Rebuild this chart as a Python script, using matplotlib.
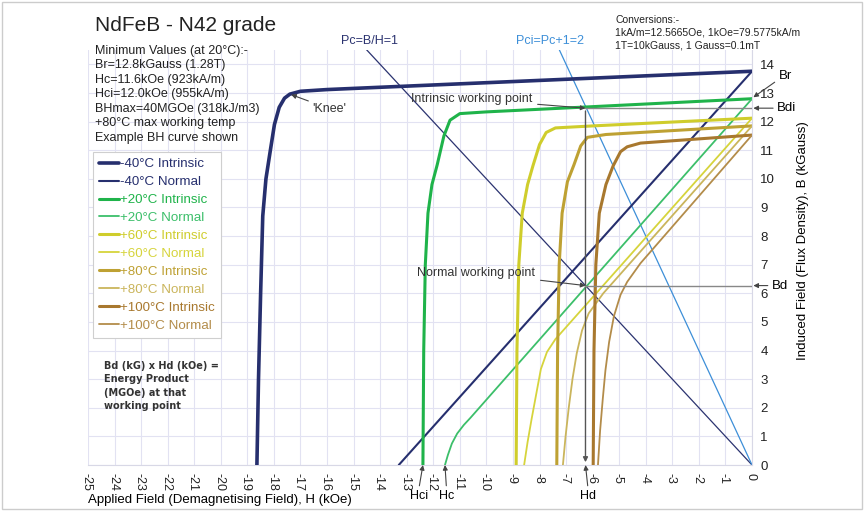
import matplotlib
matplotlib.use('Agg')
import matplotlib.pyplot as plt
from matplotlib.patches import Rectangle

plt.rcParams['font.family'] = ['Liberation Sans', 'DejaVu Sans']
plt.rcParams['axes.unicode_minus'] = False

# intrinsic / normal demagnetisation curves, H in kOe, B in kGauss
h_m40_int = [-18.64, -18.58, -18.5, -18.42, -18.3, -18.15, -17.98, -17.8, -17.6, -17.4, -17.0, -16.0, -14.76, -10.0, -5.0, 0.0]
b_m40_int = [0.0, 3.0, 6.0, 8.7, 10.0, 10.9, 11.9, 12.5, 12.82, 12.96, 13.06, 13.12, 13.17, 13.36, 13.56, 13.76]
h_m40_nor = [-13.3, 0.0]
b_m40_nor = [0.0, 13.76]

h_20_int = [-12.39, -12.36, -12.3, -12.2, -12.05, -11.85, -11.6, -11.37, -11.0, -10.0, -6.5, 0.0]
b_20_int = [0.0, 4.0, 7.0, 8.8, 9.8, 10.5, 11.5, 12.05, 12.28, 12.34, 12.5, 12.8]
h_20_nor = [-11.56, -11.45, -11.3, -11.1, -10.85, -10.6, 0.0]
b_20_nor = [0.0, 0.35, 0.75, 1.1, 1.4, 1.65, 12.8]

h_60_int = [-8.88, -8.85, -8.78, -8.65, -8.45, -8.25, -8.0, -7.75, -7.4, -6.0, 0.0]
b_60_int = [0.0, 4.0, 7.0, 8.8, 9.8, 10.45, 11.2, 11.62, 11.78, 11.85, 12.12]
h_60_nor = [-8.58, -8.45, -8.3, -8.12, -7.95, -7.72, -7.4, 0.0]
b_60_nor = [0.0, 0.8, 1.6, 2.5, 3.35, 3.95, 4.4, 12.12]

h_80_int = [-7.35, -7.32, -7.26, -7.15, -6.95, -6.7, -6.45, -6.2, -5.5, 0.0]
b_80_int = [0.0, 4.0, 7.0, 8.8, 9.9, 10.5, 11.15, 11.45, 11.55, 11.85]
h_80_nor = [-7.12, -7.02, -6.9, -6.76, -6.6, -6.4, -6.15, -5.6, 0.0]
b_80_nor = [0.0, 1.0, 2.0, 3.0, 3.9, 4.7, 5.3, 6.0, 11.85]

h_100_int = [-5.98, -5.95, -5.88, -5.75, -5.5, -5.23, -4.95, -4.7, -4.2, 0.0]
b_100_int = [0.0, 4.0, 7.0, 8.8, 9.8, 10.45, 10.95, 11.12, 11.25, 11.53]
h_100_nor = [-5.8, -5.72, -5.62, -5.52, -5.38, -5.2, -4.95, -4.7, -4.2, 0.0]
b_100_nor = [0.0, 1.2, 2.3, 3.3, 4.3, 5.2, 5.95, 6.4, 7.05, 11.53]

# load lines
pc_h = [-14.5, 0.0]
pc_b = [14.5, 0.0]
pci_h = [-7.25, 0.0]
pci_b = [14.5, 0.0]

# working point and characteristic values
hd = -6.27
bd = 6.27
bdi = 12.47
hci_20 = -12.39
hc_20 = -11.56
br_20 = 12.8
knee_h, knee_b = -17.4, 12.96

x_ticks = list(range(-25, 1))
y_ticks = list(range(0, 15))

curves = [
    (h_m40_int, b_m40_int, '-40°C Intrinsic', '#262f6e', 2.6),
    (h_m40_nor, b_m40_nor, '-40°C Normal', '#262f6e', 1.5),
    (h_20_int, b_20_int, '+20°C Intrinsic', '#1fb34a', 2.2),
    (h_20_nor, b_20_nor, '+20°C Normal', '#3cbf6a', 1.3),
    (h_60_int, b_60_int, '+60°C Intrinsic', '#cfcd2c', 2.2),
    (h_60_nor, b_60_nor, '+60°C Normal', '#d6d43c', 1.3),
    (h_80_int, b_80_int, '+80°C Intrinsic', '#bea133', 2.2),
    (h_80_nor, b_80_nor, '+80°C Normal', '#cab55c', 1.3),
    (h_100_int, b_100_int, '+100°C Intrinsic', '#a8782e', 2.2),
    (h_100_nor, b_100_nor, '+100°C Normal', '#b38c4a', 1.3),
]

fig = plt.figure(figsize=(8.65, 5.11), dpi=100)
ax = fig.add_axes([0.1017, 0.09, 0.7677, 0.812])

for h, b, lab, col, lw in curves:
    ax.plot(h, b, color=col, lw=lw, label=lab, solid_capstyle='round', zorder=3)

ax.plot(pc_h, pc_b, color='#2b3370', lw=0.9, zorder=2)
ax.plot(pci_h, pci_b, color='#3d8fd8', lw=0.9, zorder=2)

ax.set_xlim(-25, 0)
ax.set_ylim(0, 14.5)
ax.set_xticks(x_ticks)
ax.set_yticks(y_ticks)
ax.tick_params(axis='x', length=0, labelsize=9, colors='#222222', pad=6)
for t in ax.get_xticklabels():
    t.set_rotation(-90)
    t.set_rotation_mode('anchor')
    t.set_ha('left')
    t.set_va('center_baseline')
ax.tick_params(axis='y', length=0, labelsize=9.5, colors='#222222', pad=6)
ax.yaxis.tick_right()
ax.yaxis.set_label_position('right')
ax.grid(True, color='#e2e2f2', lw=0.8)
ax.set_axisbelow(True)
for s in ['top', 'left']:
    ax.spines[s].set_visible(False)
for s in ['bottom', 'right']:
    ax.spines[s].set_color('#d8d8e6')

ax.set_ylabel('Induced Field (Flux Density), B (kGauss)', fontsize=9.5)
ax.yaxis.set_label_coords(1.068, 0.54)
fig.text(0.1017, 0.022, 'Applied Field (Demagnetising Field), H (kOe)', fontsize=9.5, ha='left', va='center')

gray = '#444444'
# working point construction lines
ax.annotate('', xy=(hd, 0), xytext=(hd, bdi),
            arrowprops=dict(arrowstyle='-|>', color='#555555', lw=1.0, mutation_scale=7), zorder=4)
ax.plot([hd, 0], [bdi, bdi], color='#888888', lw=1.0, zorder=4)
ax.plot([hd, 0], [bd, bd], color='#888888', lw=1.0, zorder=4)

ax.annotate('Intrinsic working point', xy=(hd, bdi), xytext=(-8.28, 12.79),
            ha='right', va='center', fontsize=9, color='#333333',
            arrowprops=dict(arrowstyle='-|>', color=gray, lw=0.8, mutation_scale=7,
                            shrinkA=2, shrinkB=0))
ax.annotate('Normal working point', xy=(hd, bd), xytext=(-8.17, 6.72),
            ha='right', va='center', fontsize=9, color='#333333',
            arrowprops=dict(arrowstyle='-|>', color=gray, lw=0.8, mutation_scale=7,
                            shrinkA=2, shrinkB=0))
ax.annotate("'Knee'", xy=(knee_h, knee_b), xytext=(-16.55, 12.45),
            ha='left', va='center', fontsize=9, color='#333333',
            arrowprops=dict(arrowstyle='-|>', color=gray, lw=0.8, mutation_scale=7,
                            shrinkA=1, shrinkB=1))

# labels outside the plotting area
ax.annotate('Br', xy=(0.05, br_20 + 0.05), xytext=(1.0, 13.6), ha='left', va='center',
            fontsize=9.5, annotation_clip=False,
            arrowprops=dict(arrowstyle='-|>', color=gray, lw=0.8, mutation_scale=7,
                            shrinkA=1, shrinkB=0, relpos=(0.0, 0.2)))
ax.annotate('Bdi', xy=(0.05, bdi), xytext=(0.95, bdi), ha='left', va='center',
            fontsize=9.5, annotation_clip=False,
            arrowprops=dict(arrowstyle='-|>', color=gray, lw=0.8, mutation_scale=7, shrinkA=1, shrinkB=0))
ax.annotate('Bd', xy=(0.05, bd), xytext=(0.75, bd), ha='left', va='center',
            fontsize=9.5, annotation_clip=False,
            arrowprops=dict(arrowstyle='-|>', color=gray, lw=0.8, mutation_scale=7, shrinkA=1, shrinkB=0))
for hv, htxt, lab in [(hci_20, -12.55, 'Hci'), (hc_20, -11.5, 'Hc'), (hd, -6.17, 'Hd')]:
    ax.annotate(lab, xy=(hv, 0), xytext=(htxt, -1.08), ha='center', va='center',
                fontsize=9, annotation_clip=False,
                arrowprops=dict(arrowstyle='-|>', color=gray, lw=0.8, mutation_scale=7,
                                shrinkA=1, shrinkB=0, relpos=(0.5, 1.0)))

ax.text(-14.4, 14.8, 'Pc=B/H=1', ha='center', va='center', fontsize=9, color='#2b3370', clip_on=False)
ax.text(-7.6, 14.8, 'Pci=Pc+1=2', ha='center', va='center', fontsize=9, color='#3d8fd8', clip_on=False)

# header texts
fig.text(0.11, 0.95, 'NdFeB - N42 grade', fontsize=15, ha='left', va='center', color='#222222')
info = ('Minimum Values (at 20°C):-\nBr=12.8kGauss (1.28T)\nHc=11.6kOe (923kA/m)\n'
        'Hci=12.0kOe (955kA/m)\nBHmax=40MGOe (318kJ/m3)\n+80°C max working temp\nExample BH curve shown')
fig.text(0.11, 0.912, info, fontsize=9, ha='left', va='top', color='#222222', linespacing=1.27)
conv = 'Conversions:-\n1kA/m=12.5665Oe, 1kOe=79.5775kA/m\n1T=10kGauss, 1 Gauss=0.1mT'
fig.text(0.711, 0.97, conv, fontsize=7.5, ha='left', va='top', color='#222222', linespacing=1.3)

ax.text(-24.4, 3.65, 'Bd (kG) x Hd (kOe) =\nEnergy Product\n(MGOe) at that\nworking point',
        fontsize=7, fontweight='bold', family=['DejaVu Sans'], ha='left', va='top',
        color='#333333', linespacing=1.45)

leg = ax.legend(loc='upper left', bbox_to_anchor=(0.1075, 0.7025), bbox_transform=fig.transFigure,
                fontsize=9.6, labelcolor='linecolor', handlelength=1.5, handletextpad=0.1,
                labelspacing=0.42, borderpad=0.45, borderaxespad=0, fancybox=False, framealpha=1)
leg.get_frame().set_edgecolor('#cfcfcf')
leg.get_frame().set_linewidth(0.8)

fig.patches.append(Rectangle((0.002, 0.004), 0.995, 0.992, transform=fig.transFigure,
                             fill=False, edgecolor='#cccccc', lw=1.0))

fig.savefig('out.png', dpi=100)
